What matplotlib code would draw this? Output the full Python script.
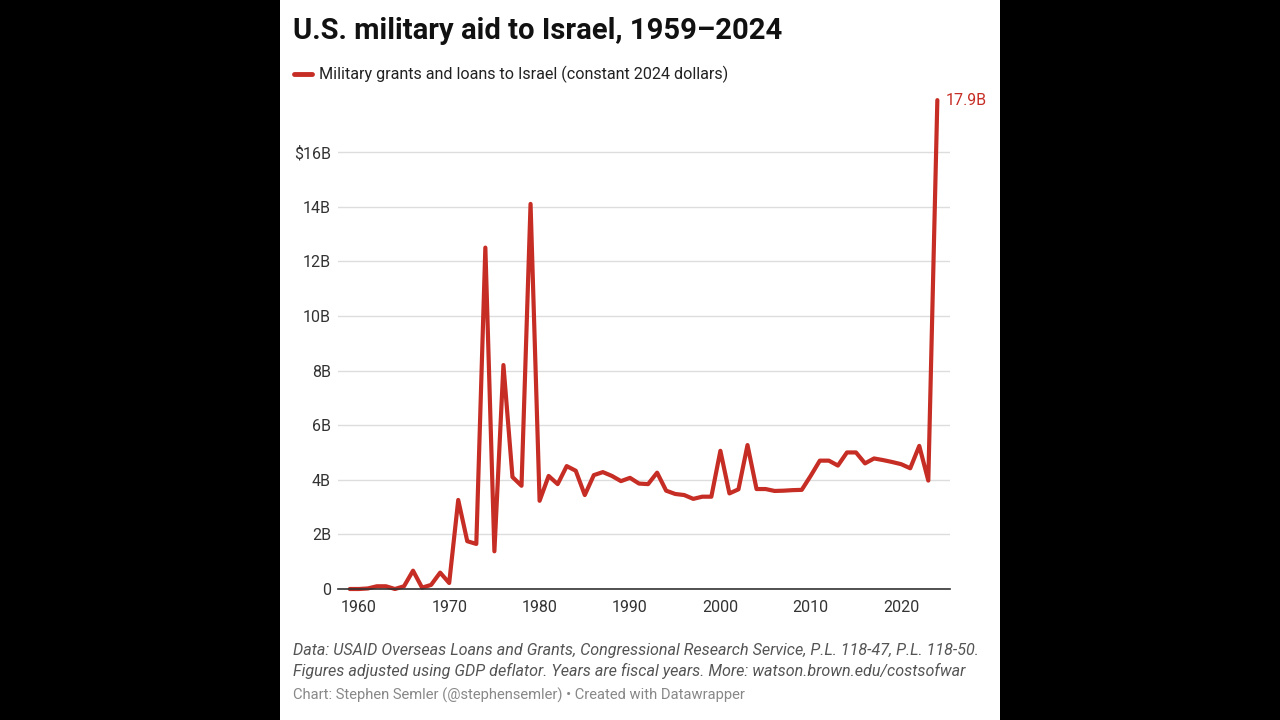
import matplotlib.pyplot as plt
from matplotlib.lines import Line2D
from matplotlib.patches import Rectangle

plt.rcParams["font.family"] = ["Roboto", "DejaVu Sans"]

# fiscal years and aid in billions of constant 2024 dollars
years = list(range(1959, 2025))
aid_billions = [
    0.0, 0.0, 0.02, 0.1, 0.1, 0.0, 0.1, 0.67, 0.05, 0.15, 0.6,        # 1959-1969
    0.22, 3.26, 1.75, 1.65, 12.5, 1.38, 8.2, 4.1, 3.78, 14.1,          # 1970-1979
    3.23, 4.14, 3.84, 4.5, 4.33, 3.44, 4.17, 4.28, 4.14, 3.95,         # 1980-1989
    4.07, 3.86, 3.84, 4.26, 3.6, 3.48, 3.44, 3.3, 3.38, 3.38,          # 1990-1999
    5.06, 3.5, 3.65, 5.27, 3.66, 3.66, 3.59, 3.6, 3.62, 3.63,          # 2000-2009
    4.15, 4.7, 4.7, 4.52, 5.0, 5.0, 4.6, 4.78, 4.72, 4.65,             # 2010-2019
    4.57, 4.42, 5.24, 3.97, 17.9,                                      # 2020-2024
]
y_ticks = [0, 2, 4, 6, 8, 10, 12, 14, 16]
y_tick_labels = ["0", "2B", "4B", "6B", "8B", "10B", "12B", "14B", "$16B"]
x_ticks = [1960, 1970, 1980, 1990, 2000, 2010, 2020]
end_label = "17.9B"

RED = "#c62d24"
W, H = 1280, 720

fig = plt.figure(figsize=(12.8, 7.2), dpi=100, facecolor="black")
# white card in the middle of the black frame
fig.add_artist(Rectangle((280 / W, 0), 720 / W, 1, transform=fig.transFigure,
                         facecolor="white", edgecolor="none", zorder=0))

ax = fig.add_axes([338 / W, 131 / H, 612 / W, (589 - 97.4) / H])
ax.set_facecolor("none")
ax.plot(years, aid_billions, color=RED, lw=3.0, solid_joinstyle="round",
        solid_capstyle="round", clip_on=False, zorder=3)

ax.set_xlim(1957.7, 2025.4)
ax.set_ylim(0, 18)
ax.set_yticks(y_ticks)
ax.set_yticklabels(y_tick_labels)
ax.set_xticks(x_ticks)
ax.tick_params(axis="both", length=0, labelsize=11.5, labelcolor="#333333")
ax.tick_params(axis="y", pad=5)
ax.tick_params(axis="x", pad=8)
ax.grid(axis="y", color="#dddddd", lw=1)
for s in ["top", "right", "left"]:
    ax.spines[s].set_visible(False)
ax.spines["bottom"].set_color("#333333")
ax.spines["bottom"].set_linewidth(1.2)
ax.spines["bottom"].set_zorder(4)

ax.annotate(end_label, (years[-1], aid_billions[-1]), xytext=(6, 0),
            textcoords="offset points", color=RED, fontsize=11.5,
            va="center", ha="left", annotation_clip=False)

# title and legend
fig.text(293 / W, 1 - 31 / H, "U.S. military aid to Israel, 1959\u20132024",
         fontsize=21.1, fontweight="bold", color="#111111", va="center", ha="left")
fig.add_artist(Line2D([294 / W, 312 / W], [1 - 74 / H, 1 - 74 / H],
                      transform=fig.transFigure, color=RED, lw=3.5,
                      solid_capstyle="round"))
fig.text(319 / W, 1 - 74 / H,
         "Military grants and loans to Israel (constant 2024 dollars)",
         fontsize=11.6, color="#222222", va="center", ha="left")

# footer
fig.text(293 / W, 1 - 651 / H,
         "Data: USAID Overseas Loans and Grants, Congressional Research Service, P.L. 118-47, P.L. 118-50.",
         fontsize=11.6, style="italic", color="#555555", va="center", ha="left")
fig.text(293 / W, 1 - 671 / H,
         "Figures adjusted using GDP deflator. Years are fiscal years. More: watson.brown.edu/costsofwar",
         fontsize=11.6, style="italic", color="#555555", va="center", ha="left")
fig.text(293 / W, 1 - 695 / H,
         "Chart: Stephen Semler (@stephensemler) \u2022 Created with Datawrapper",
         fontsize=10.6, color="#888888", va="center", ha="left")

fig.savefig("out.png", dpi=100, facecolor="black")
